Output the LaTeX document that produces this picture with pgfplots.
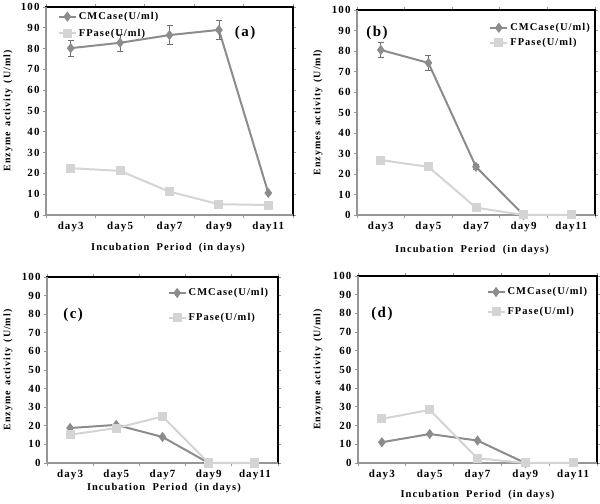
\documentclass[border=0pt]{standalone}
\usepackage{fontspec}
\setmainfont{Liberation Serif}[LetterSpace=10]
\usepackage{pgfplots}
\pgfplotsset{compat=1.18}
\definecolor{cmc}{RGB}{140,140,140}
\definecolor{fp}{RGB}{212,212,212}
\definecolor{ax}{RGB}{150,150,150}
\pgfplotsset{
  panel/.style={
    scale only axis,
    xmin=-0.5, xmax=4.5, ymin=0, ymax=100,
    ytick={0,10,...,100},
    xtick={0,...,4},
    xticklabels={day3,day5,day7,day9,day11},
    minor xtick={-0.5,0.5,...,4.5},
    major x tick style={draw=none},
    tick align=outside,
    major tick length=3bp, minor tick length=3bp,
    every tick/.style={ax, line width=0.8bp},
    minor x tick style={ax, line width=0.8bp},
    axis line style={black, line width=1.2bp},
    /pgf/number format/assume math mode=true,
    tick label style={font=\bfseries\fontsize{11}{13}\selectfont},
    xlabel style={font=\bfseries\fontsize{10.5}{12}\selectfont},
    ylabel style={font=\bfseries\fontsize{10}{12}\selectfont},
    legend style={draw=none, fill=none, font=\bfseries\fontsize{10.5}{13}\selectfont},
    legend cell align=left,
    clip=false,
  },
  cm/.style={color=cmc, line width=2bp, mark=diamond*, mark size=3.5bp, mark options={fill=cmc, draw=cmc}},
  fps/.style={color=fp, line width=2bp, mark=square*, mark size=3.5bp, mark options={fill=fp, draw=fp}},
  eb/.style={error bars/.cd, y dir=both, y explicit,
    error bar style={color=cmc!80!black, line width=0.7bp},
    error mark options={rotate=90, mark size=3bp, color=cmc!80!black, line width=0.7bp}},
}
\newcommand{\grayaxes}{\draw[ax, line width=1.2bp] (rel axis cs:0,1) -- (rel axis cs:0,0) -- (rel axis cs:1,0);}
\newcommand{\plabel}{\bfseries\fontsize{15}{17}\selectfont}
\begin{document}
\begin{tikzpicture}
\useasboundingbox (0,0) rectangle (600bp,504bp);
% (a)
\begin{axis}[panel, at={(46bp,497bp)}, anchor=north west, width=247bp, height=208bp,
  xlabel={Incubation\ \ Period\ \ (in days)}, xlabel style={at={(axis description cs:0.494,-0.159)}, anchor=center},
  ylabel={Enzyme\,\ activity\,\ (U/ml)}, ylabel style={at={(axis description cs:-0.154,0.5)}, anchor=center},
  legend style={at={(axis description cs:0.035,0.995)}, anchor=north west, row sep=4bp}]
\grayaxes
\addplot[cm, eb] coordinates {(0,80.2) +- (0,4) (1,82.8) +- (0,4) (2,86.5) +- (0,4.5) (3,89) +- (0,4.5) (4,10.6) +- (0,0)};
\addplot[fps] coordinates {(0,22.5) (1,21.2) (2,11.2) (3,5.2) (4,4.8)};
\legend{CMCase(U/ml),FPase(U/ml)}
\node[font=\plabel] at (rel axis cs:0.806,0.875) {(a)};
\end{axis}
% (b)
\begin{axis}[panel, at={(357bp,494bp)}, anchor=north west, width=238bp, height=205bp,
  xlabel={Incubation\ \ Period\ \ (in days)}, xlabel style={at={(axis description cs:0.483,-0.17)}, anchor=center},
  ylabel={Enzymes\,\ activity\,\ (U/ml)}, ylabel style={at={(axis description cs:-0.164,0.5)}, anchor=center},
  legend style={at={(axis description cs:1.0,0.955)}, anchor=north east, row sep=2bp}]
\grayaxes
\addplot[cm, eb] coordinates {(0,80.5) +- (0,3.5) (1,74.2) +- (0,3.5) (2,23.5) +- (0,1) (3,0) +- (0,0)};
\addplot[fps] coordinates {(0,26.8) (1,23.5) (2,3.6) (3,0) (4,0)};
\legend{CMCase(U/ml),FPase(U/ml)}
\node[font=\plabel] at (rel axis cs:0.084,0.888) {(b)};
\end{axis}
% (c)
\begin{axis}[panel, at={(47bp,227bp)}, anchor=north west, width=231bp, height=186bp,
  xlabel={Incubation\ \ Period\ \ (in days)}, xlabel style={at={(axis description cs:0.506,-0.135)}, anchor=center},
  ylabel={Enzyme\,\ activity\,\ (U/ml)}, ylabel style={at={(axis description cs:-0.169,0.5)}, anchor=center},
  legend style={at={(axis description cs:0.98,0.96)}, anchor=north east, row sep=12bp}]
\grayaxes
\addplot[cm] coordinates {(0,18.8) (1,20.5) (2,14) (3,0)};
\addplot[fps] coordinates {(0,15.2) (1,18.8) (2,25) (3,0) (4,0)};
\legend{CMCase(U/ml),FPase(U/ml)}
\node[font=\plabel] at (rel axis cs:0.113,0.796) {(c)};
\end{axis}
% (d)
\begin{axis}[panel, at={(358bp,228bp)}, anchor=north west, width=239bp, height=187bp,
  xlabel={Incubation\ \ Period\ \ (in days)}, xlabel style={at={(axis description cs:0.5,-0.171)}, anchor=center},
  ylabel={Enzyme\,\ activity\,\ (U/ml)}, ylabel style={at={(axis description cs:-0.167,0.5)}, anchor=center},
  legend style={at={(axis description cs:0.98,0.96)}, anchor=north east, row sep=7bp}]
\grayaxes
\addplot[cm] coordinates {(0,11.1) (1,15.5) (2,12) (3,0)};
\addplot[fps] coordinates {(0,23.6) (1,28.4) (2,2.5) (3,0) (4,0)};
\legend{CMCase(U/ml),FPase(U/ml)}
\node[font=\plabel] at (rel axis cs:0.10,0.797) {(d)};
\end{axis}
\end{tikzpicture}
\end{document}
